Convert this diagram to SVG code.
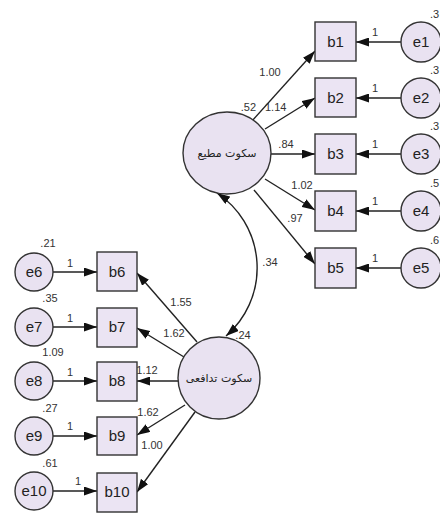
<svg xmlns="http://www.w3.org/2000/svg" width="440" height="514" viewBox="0 0 440 514">
  <style>
    .obs { fill: #ebe4f3; stroke: #333; stroke-width: 1.4; }
    .lat { fill: #e9e2f1; stroke: #333; stroke-width: 1.4; }
    .name { font-family: "Liberation Sans", Arial, sans-serif; font-size: 15px; fill: #222; text-anchor: middle; }
    .fa { font-family: "DejaVu Sans", "Noto Sans", sans-serif; font-size: 11px; fill: #222; text-anchor: middle; }
    .num { font-family: "Liberation Sans", Arial, sans-serif; font-size: 11px; fill: #333; text-anchor: middle; }
    .edge { fill: none; stroke: #222; stroke-width: 1.4; }
  </style>
  <defs>
    <marker id="head" viewBox="0 0 13 9" refX="13" refY="4.5" markerWidth="13" markerHeight="9" markerUnits="userSpaceOnUse" orient="auto-start-reverse">
      <path d="M0,0 L13,4.5 L0,9 z" fill="#111"/>
    </marker>
  </defs>

  <rect width="440" height="514" fill="#ffffff"/>

  <!-- connectors -->
  <g id="connectors">
    <!-- loadings of the upper factor -->
    <line class="edge" x1="252" y1="121" x2="315" y2="51" marker-end="url(#head)"/>
    <line class="edge" x1="265" y1="129" x2="315" y2="98" marker-end="url(#head)"/>
    <line class="edge" x1="271" y1="154" x2="315" y2="154" marker-end="url(#head)"/>
    <line class="edge" x1="265" y1="179" x2="315" y2="210" marker-end="url(#head)"/>
    <line class="edge" x1="254" y1="190" x2="315" y2="264" marker-end="url(#head)"/>
    <!-- error terms, right column -->
    <line class="edge" x1="401" y1="42" x2="356" y2="42" marker-end="url(#head)"/>
    <line class="edge" x1="401" y1="98" x2="356" y2="98" marker-end="url(#head)"/>
    <line class="edge" x1="401" y1="154" x2="356" y2="154" marker-end="url(#head)"/>
    <line class="edge" x1="401" y1="211" x2="356" y2="211" marker-end="url(#head)"/>
    <line class="edge" x1="401" y1="268" x2="356" y2="268" marker-end="url(#head)"/>
    <!-- loadings of the lower factor -->
    <line class="edge" x1="197" y1="342" x2="137" y2="273" marker-end="url(#head)"/>
    <line class="edge" x1="184" y1="357" x2="137" y2="328" marker-end="url(#head)"/>
    <line class="edge" x1="178" y1="381" x2="137" y2="381" marker-end="url(#head)"/>
    <line class="edge" x1="185" y1="405" x2="137" y2="435" marker-end="url(#head)"/>
    <line class="edge" x1="195" y1="412" x2="137" y2="492" marker-end="url(#head)"/>
    <!-- error terms, left column -->
    <line class="edge" x1="53" y1="272" x2="97" y2="272" marker-end="url(#head)"/>
    <line class="edge" x1="53" y1="327" x2="97" y2="327" marker-end="url(#head)"/>
    <line class="edge" x1="53" y1="381" x2="97" y2="381" marker-end="url(#head)"/>
    <line class="edge" x1="53" y1="436" x2="97" y2="436" marker-end="url(#head)"/>
    <line class="edge" x1="53" y1="491" x2="97" y2="491" marker-end="url(#head)"/>
    <!-- factor covariance -->
    <path class="edge" d="M217,193 A90,90 0 0 1 226,336" marker-start="url(#head)" marker-end="url(#head)"/>
  </g>

  <!-- coefficient labels -->
  <g id="labels">
    <text class="num" x="270" y="76">1.00</text>
    <text class="num" x="256" y="111" style="text-anchor:end">.52</text>
    <text class="num" x="265" y="111" style="text-anchor:start">1.14</text>
    <text class="num" x="286" y="148">.84</text>
    <text class="num" x="302" y="189">1.02</text>
    <text class="num" x="295" y="222">.97</text>
    <text class="num" x="270" y="266">.34</text>
    <text class="num" x="243" y="339">.24</text>
    <text class="num" x="181" y="306">1.55</text>
    <text class="num" x="174" y="337">1.62</text>
    <text class="num" x="147" y="374">1.12</text>
    <text class="num" x="148" y="416">1.62</text>
    <text class="num" x="152" y="449">1.00</text>
    <!-- unit loadings of error terms -->
    <text class="num" x="375" y="36">1</text>
    <text class="num" x="375" y="92">1</text>
    <text class="num" x="375" y="148">1</text>
    <text class="num" x="375" y="205">1</text>
    <text class="num" x="375" y="262">1</text>
    <text class="num" x="70" y="267">1</text>
    <text class="num" x="70" y="322">1</text>
    <text class="num" x="70" y="376">1</text>
    <text class="num" x="70" y="430">1</text>
    <text class="num" x="78" y="485">1</text>
    <!-- error variances -->
    <text class="num" x="430" y="18" style="text-anchor:start">.3</text>
    <text class="num" x="430" y="74" style="text-anchor:start">.3</text>
    <text class="num" x="430" y="130" style="text-anchor:start">.3</text>
    <text class="num" x="430" y="187" style="text-anchor:start">.5</text>
    <text class="num" x="430" y="244" style="text-anchor:start">.6</text>
    <text class="num" x="48" y="247">.21</text>
    <text class="num" x="50" y="302">.35</text>
    <text class="num" x="53" y="356">1.09</text>
    <text class="num" x="50" y="412">.27</text>
    <text class="num" x="50" y="467">.61</text>
  </g>

  <!-- latent factors -->
  <g id="f1">
    <ellipse class="lat" cx="227" cy="153" rx="44" ry="41"/>
    <text class="fa" x="227" y="157">سکوت مطیع</text>
  </g>
  <g id="f2">
    <circle class="lat" cx="219" cy="378" r="41"/>
    <text class="fa" x="219" y="382">سکوت تدافعی</text>
  </g>

  <!-- observed indicators, right column -->
  <g id="b1"><rect class="obs" x="315" y="22" width="41" height="39"/><text class="name" x="335.5" y="47">b1</text></g>
  <g id="b2"><rect class="obs" x="315" y="78" width="41" height="39"/><text class="name" x="335.5" y="103">b2</text></g>
  <g id="b3"><rect class="obs" x="315" y="134" width="41" height="40"/><text class="name" x="335.5" y="159">b3</text></g>
  <g id="b4"><rect class="obs" x="315" y="191" width="41" height="40"/><text class="name" x="335.5" y="216">b4</text></g>
  <g id="b5"><rect class="obs" x="315" y="248" width="41" height="40"/><text class="name" x="335.5" y="273">b5</text></g>

  <!-- error terms, right column -->
  <g id="e1"><circle class="lat" cx="421" cy="42" r="20"/><text class="name" x="421" y="47">e1</text></g>
  <g id="e2"><circle class="lat" cx="421" cy="98" r="20"/><text class="name" x="421" y="103">e2</text></g>
  <g id="e3"><circle class="lat" cx="421" cy="154" r="20"/><text class="name" x="421" y="159">e3</text></g>
  <g id="e4"><circle class="lat" cx="421" cy="211" r="20"/><text class="name" x="421" y="216">e4</text></g>
  <g id="e5"><circle class="lat" cx="421" cy="268" r="20"/><text class="name" x="421" y="273">e5</text></g>

  <!-- observed indicators, left column -->
  <g id="b6"><rect class="obs" x="97" y="252" width="40" height="39"/><text class="name" x="117" y="277">b6</text></g>
  <g id="b7"><rect class="obs" x="97" y="308" width="40" height="39"/><text class="name" x="117" y="332">b7</text></g>
  <g id="b8"><rect class="obs" x="97" y="362" width="40" height="39"/><text class="name" x="117" y="386">b8</text></g>
  <g id="b9"><rect class="obs" x="97" y="417" width="40" height="38"/><text class="name" x="117" y="441">b9</text></g>
  <g id="b10"><rect class="obs" x="97" y="473" width="40" height="39"/><text class="name" x="117" y="497">b10</text></g>

  <!-- error terms, left column -->
  <g id="e6"><circle class="lat" cx="34" cy="272" r="19"/><text class="name" x="34" y="277">e6</text></g>
  <g id="e7"><circle class="lat" cx="34" cy="327" r="19"/><text class="name" x="34" y="332">e7</text></g>
  <g id="e8"><circle class="lat" cx="34" cy="381" r="19"/><text class="name" x="34" y="386">e8</text></g>
  <g id="e9"><circle class="lat" cx="34" cy="436" r="19"/><text class="name" x="34" y="441">e9</text></g>
  <g id="e10"><circle class="lat" cx="34" cy="491" r="19"/><text class="name" x="34" y="496">e10</text></g>
</svg>
